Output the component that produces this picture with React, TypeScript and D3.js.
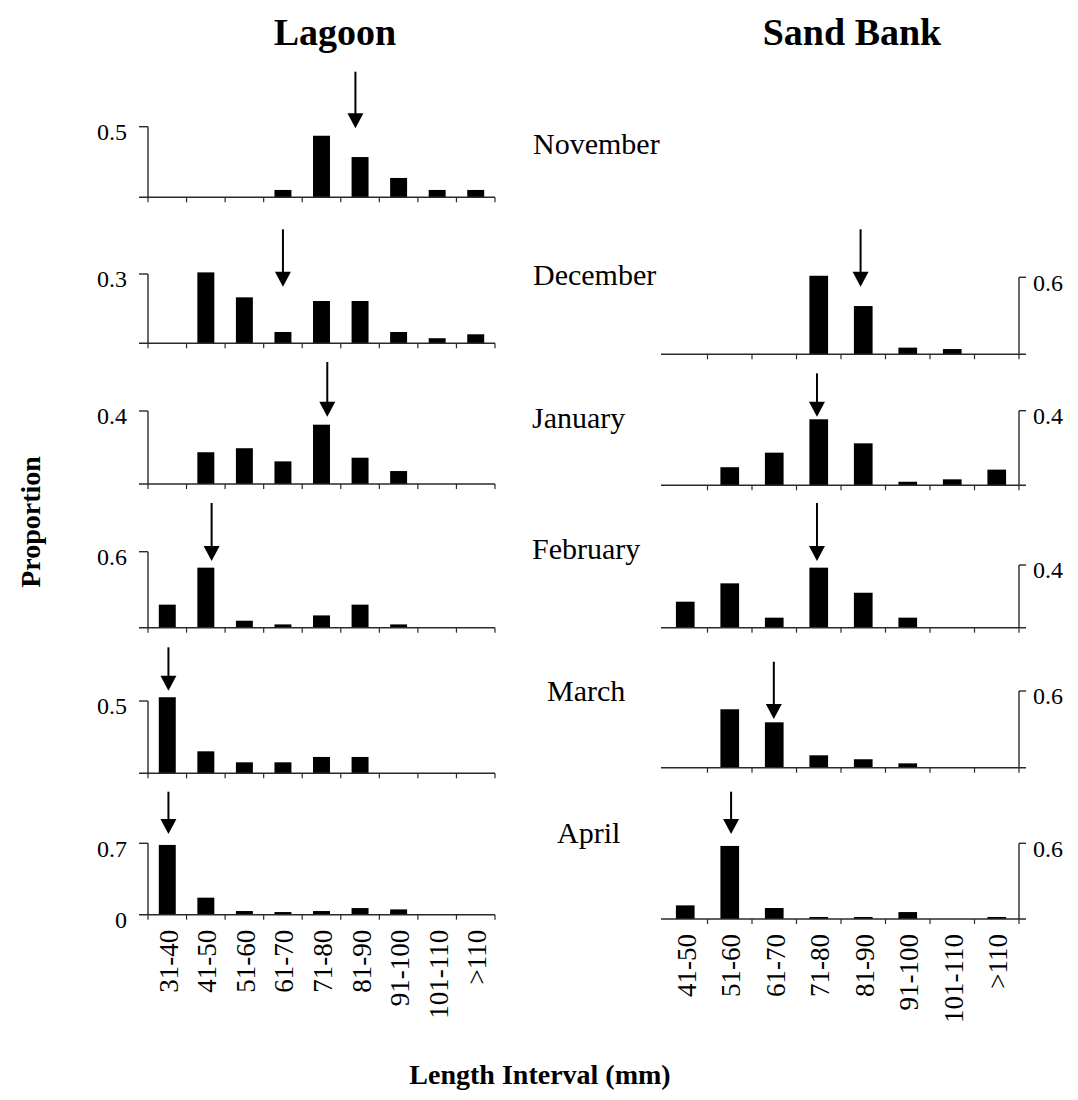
import React from "react";
import * as d3 from "d3";

// Length classes (mm)
const LAGOON_CATEGORIES = ["31-40", "41-50", "51-60", "61-70", "71-80", "81-90", "91-100", "101-110", ">110"];
const SANDBANK_CATEGORIES = ["41-50", "51-60", "61-70", "71-80", "81-90", "91-100", "101-110", ">110"];
const MONTHS = ["November", "December", "January", "February", "March", "April"];

// Lagoon: proportion per length class
const LAGOON_NOV = [0, 0, 0, 0.052, 0.436, 0.285, 0.137, 0.052, 0.052];
const LAGOON_DEC = [0, 0.307, 0.199, 0.049, 0.183, 0.183, 0.049, 0.022, 0.039];
const LAGOON_JAN = [0, 0.174, 0.196, 0.124, 0.325, 0.144, 0.071, 0, 0];
const LAGOON_FEB = [0.182, 0.474, 0.055, 0.026, 0.097, 0.182, 0.026, 0, 0];
const LAGOON_MAR = [0.526, 0.152, 0.076, 0.076, 0.113, 0.113, 0, 0, 0];
const LAGOON_APR = [0.684, 0.167, 0.036, 0.026, 0.036, 0.065, 0.052, 0, 0];

// Sand Bank: proportion per length class (no November sample)
const SANDBANK_DEC = [0, 0, 0, 0.612, 0.376, 0.052, 0.041, 0];
const SANDBANK_JAN = [0, 0.097, 0.175, 0.354, 0.225, 0.019, 0.032, 0.084];
const SANDBANK_FEB = [0.166, 0.283, 0.064, 0.383, 0.223, 0.064, 0, 0];
const SANDBANK_MAR = [0, 0.457, 0.355, 0.097, 0.066, 0.034, 0, 0];
const SANDBANK_APR = [0.108, 0.579, 0.087, 0.016, 0.016, 0.055, 0, 0.016];

// Mean length (mm), marked with an arrow
const LAGOON_MEAN = [84.3, 65.5, 77.0, 47.0, 35.8, 35.8];
const SANDBANK_MEAN = [null, 84.9, 75.1, 75.1, 65.4, 55.8];

// Labelled top tick of each y axis
const LAGOON_TICK = [0.5, 0.3, 0.4, 0.6, 0.5, 0.7];
const SANDBANK_TICK = [null, 0.6, 0.4, 0.4, 0.6, 0.6];

const LAGOON_SERIES = [LAGOON_NOV, LAGOON_DEC, LAGOON_JAN, LAGOON_FEB, LAGOON_MAR, LAGOON_APR];
const SANDBANK_SERIES = [null, SANDBANK_DEC, SANDBANK_JAN, SANDBANK_FEB, SANDBANK_MAR, SANDBANK_APR];

// ---- layout ----
const W = 1078;
const H = 1100;
const FONT = "'Liberation Serif', 'Times New Roman', Times, serif";
const AXIS = "#2a2a2a";

const LEFT_RANGE: [number, number] = [148, 495];
const RIGHT_RANGE: [number, number] = [663, 1019];
const LEFT_LEN: [number, number] = [30.5, 120.5];
const RIGHT_LEN: [number, number] = [40.5, 120.5];

const LEFT_ROWS = [
  { base: 197.3, top: 126.7, arrowTop: 71.7, arrowTip: 128.3 },
  { base: 343.3, top: 274, arrowTop: 229.3, arrowTip: 286.7 },
  { base: 484, top: 411, arrowTop: 362, arrowTip: 416.7 },
  { base: 627.7, top: 551.7, arrowTop: 503, arrowTip: 561 },
  { base: 773.3, top: 701, arrowTop: 647.3, arrowTip: 690.7 },
  { base: 914.7, top: 843.3, arrowTop: 791.7, arrowTip: 834 },
];
const RIGHT_ROWS = [
  null,
  { base: 354.3, top: 277.3, arrowTop: 229.3, arrowTip: 286.7 },
  { base: 485.3, top: 410.7, arrowTop: 373.3, arrowTip: 416.7 },
  { base: 627.7, top: 565, arrowTop: 503, arrowTip: 561 },
  { base: 767.7, top: 691, arrowTop: 661.7, arrowTip: 719 },
  { base: 919, top: 843.3, arrowTop: 791.7, arrowTip: 834 },
];
const MONTH_POS = [
  { x: 533, y: 154 },
  { x: 533, y: 285 },
  { x: 532, y: 428 },
  { x: 532, y: 559 },
  { x: 547, y: 701 },
  { x: 557, y: 843 },
];

type Row = { base: number; top: number; arrowTop: number; arrowTip: number };

function Arrow({ x, y0, y1 }: { x: number; y0: number; y1: number }) {
  const head = 15;
  const half = 8;
  return (
    <g>
      <line x1={x} x2={x} y1={y0} y2={y1 - head + 1} stroke="#000" strokeWidth={2} />
      <path d={`M${x - half},${y1 - head}L${x + half},${y1 - head}L${x},${y1}Z`} fill="#000" />
    </g>
  );
}

function Panel({
  side,
  categories,
  values,
  tick,
  mean,
  row,
  showCategories,
  showZero,
}: {
  side: "left" | "right";
  categories: string[];
  values: number[];
  tick: number;
  mean: number;
  row: Row;
  showCategories: boolean;
  showZero: boolean;
}) {
  const range = side === "left" ? LEFT_RANGE : RIGHT_RANGE;
  const lenDomain = side === "left" ? LEFT_LEN : RIGHT_LEN;
  const x = d3
    .scaleBand<string>()
    .domain(categories)
    .range(range)
    .paddingInner(side === "left" ? 0.56 : 0.58)
    .paddingOuter(side === "left" ? 0.28 : 0.29);
  const xLen = d3.scaleLinear().domain(lenDomain).range(range);
  const y = d3.scaleLinear().domain([0, tick]).range([row.base, row.top]);
  const step = x.step();
  const x0 = range[0];
  const axisX = side === "left" ? range[0] : range[1];
  const boundaries = d3.range(categories.length + 1).map((i) => x0 + i * step);
  const tickFmt = d3.format(".1f");

  return (
    <g>
      {/* bars */}
      {values.map((v, i) =>
        v > 0 ? (
          <rect
            key={i}
            x={x(categories[i])}
            width={x.bandwidth()}
            y={y(v)}
            height={y(0) - y(v)}
            fill="#000"
          />
        ) : null
      )}
      {/* x axis */}
      <line
        x1={side === "left" ? range[0] - 9 : range[0] - 2}
        x2={side === "left" ? range[1] : range[1] + 7}
        y1={y(0)}
        y2={y(0)}
        stroke={AXIS}
        strokeWidth={1.4}
      />
      {boundaries.map((b, i) =>
        side === "right" && i === 0 ? null : (
          <line key={i} x1={b} x2={b} y1={y(0)} y2={y(0) + 5} stroke={AXIS} strokeWidth={1.2} />
        )
      )}
      {/* y axis */}
      <line x1={axisX} x2={axisX} y1={y(0)} y2={y(tick)} stroke={AXIS} strokeWidth={1.4} />
      <line
        x1={axisX}
        x2={side === "left" ? axisX - 9 : axisX + 7}
        y1={y(tick)}
        y2={y(tick)}
        stroke={AXIS}
        strokeWidth={1.4}
      />
      <text
        x={side === "left" ? axisX - 21 : axisX + 14}
        y={y(tick) + 5}
        dy="0.35em"
        textAnchor={side === "left" ? "end" : "start"}
        fontFamily={FONT}
        fontSize={24}
      >
        {tickFmt(tick)}
      </text>
      {showZero && (
        <text x={axisX - 21} y={y(0) + 5} dy="0.35em" textAnchor="end" fontFamily={FONT} fontSize={24}>
          0
        </text>
      )}
      {/* mean length arrow */}
      <Arrow x={xLen(mean)} y0={row.arrowTop} y1={row.arrowTip} />
      {/* category labels */}
      {showCategories &&
        categories.map((c) => {
          const cx = (x(c) as number) + x.bandwidth() / 2 + 1;
          const ty = y(0) + 15;
          return (
            <text
              key={c}
              transform={`translate(${cx},${ty}) rotate(-90)`}
              dy="0.35em"
              textAnchor="end"
              fontFamily={FONT}
              fontSize={27}
            >
              {c}
            </text>
          );
        })}
    </g>
  );
}

export default function App() {
  const last = MONTHS.length - 1;
  return (
    <svg
      width={W}
      height={H}
      viewBox={`0 0 ${W} ${H}`}
      style={{ position: "absolute", left: 0, top: 0, background: "#fff" }}
    >
      <rect width={W} height={H} fill="#fff" />
      <text x={335} y={45} textAnchor="middle" fontFamily={FONT} fontWeight="bold" fontSize={38}>
        Lagoon
      </text>
      <text x={852} y={45} textAnchor="middle" fontFamily={FONT} fontWeight="bold" fontSize={38}>
        Sand Bank
      </text>

      {MONTHS.map((m, i) => (
        <text key={m} x={MONTH_POS[i].x} y={MONTH_POS[i].y} fontFamily={FONT} fontSize={30}>
          {m}
        </text>
      ))}

      {LAGOON_SERIES.map((vals, i) => (
        <Panel
          key={`l${i}`}
          side="left"
          categories={LAGOON_CATEGORIES}
          values={vals}
          tick={LAGOON_TICK[i]}
          mean={LAGOON_MEAN[i]}
          row={LEFT_ROWS[i]}
          showCategories={i === last}
          showZero={i === last}
        />
      ))}

      {SANDBANK_SERIES.map((vals, i) =>
        vals ? (
          <Panel
            key={`r${i}`}
            side="right"
            categories={SANDBANK_CATEGORIES}
            values={vals}
            tick={SANDBANK_TICK[i] as number}
            mean={SANDBANK_MEAN[i] as number}
            row={RIGHT_ROWS[i] as Row}
            showCategories={i === last}
            showZero={false}
          />
        ) : null
      )}

      <text
        transform="translate(40,522) rotate(-90)"
        textAnchor="middle"
        fontFamily={FONT}
        fontWeight="bold"
        fontSize={28}
      >
        Proportion
      </text>
      <text x={540} y={1084} textAnchor="middle" fontFamily={FONT} fontWeight="bold" fontSize={28}>
        Length Interval (mm)
      </text>
    </svg>
  );
}
